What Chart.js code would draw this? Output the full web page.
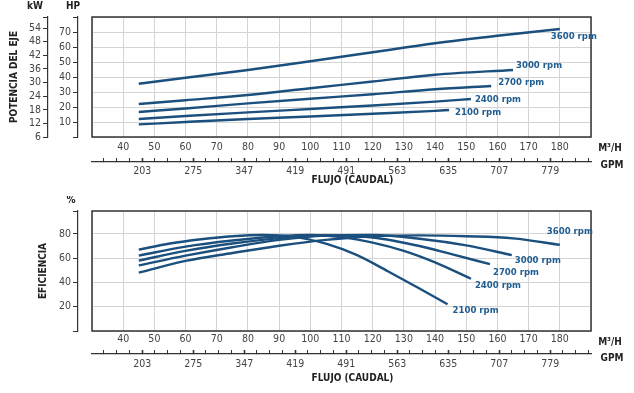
<!DOCTYPE html>
<html>
<head>
<meta charset="utf-8">
<script src="https://cdn.jsdelivr.net/npm/chart.js@4.4.1/dist/chart.umd.min.js"></script>
<style>
  html, body { margin: 0; padding: 0; background: #fff; }
  #wrap { position: relative; width: 634px; height: 393px; }
  canvas { position: absolute; left: 0; }
  #top { top: 0; }
  #bot { top: 196px; }
</style>
</head>
<body>
<div id="wrap">
  <canvas id="top" width="634" height="196"></canvas>
  <canvas id="bot" width="634" height="197"></canvas>
</div>
<script>
// curvas de la bomba
var rpmLabels = ['3600 rpm', '3000 rpm', '2700 rpm', '2400 rpm', '2100 rpm'];

// potencia del eje (HP) vs caudal (m3/h)
var powFlow3600 = [45, 60, 80, 100, 120, 140, 160, 180];
var powHp3600   = [35.5, 39.5, 44.7, 50.5, 56.5, 62.5, 67.5, 72];
var powFlow3000 = [45, 60, 80, 100, 120, 140, 165];
var powHp3000   = [22, 24.5, 28, 32.5, 37, 41.5, 44.7];
var powFlow2700 = [45, 60, 80, 100, 120, 140, 158];
var powHp2700   = [16.7, 19, 22.4, 25.5, 28.5, 31.8, 34];
var powFlow2400 = [45, 60, 80, 100, 120, 140, 151.5];
var powHp2400   = [12, 14, 16.4, 18.7, 21, 23.6, 25.3];
var powFlow2100 = [45, 60, 80, 100, 120, 140, 144.5];
var powHp2100   = [8.4, 10, 12, 13.7, 15.5, 17.4, 18];

// eficiencia (%) vs caudal (m3/h)
var effFlow3600 = [45, 60, 75, 90, 105, 120, 135, 150, 165, 180];
var eff3600     = [48, 57.7, 64.2, 70.2, 75, 78, 78.7, 78, 76.3, 71];
var effFlow3000 = [45, 60, 75, 90, 105, 120, 135, 150, 164.6];
var eff3000     = [54, 62, 69, 75, 78.5, 79, 76, 70.5, 62.5];
var effFlow2700 = [45, 60, 75, 90, 105, 120, 135, 145, 157.6];
var eff2700     = [58, 66, 72, 76.5, 78.8, 77, 70, 63.5, 55];
var effFlow2400 = [45, 60, 75, 90, 100, 110, 120, 130, 140, 151.5];
var eff2400     = [62, 69.5, 74.5, 78, 79, 77.3, 72.8, 66, 56.5, 43];
var effFlow2100 = [45, 55, 65, 75, 85, 95, 105, 115, 125, 135, 144];
var eff2100     = [67, 72, 75.5, 78, 79, 77.5, 72, 62.5, 49, 35, 22];

// ejes
var m3hTicks = [40, 50, 60, 70, 80, 90, 100, 110, 120, 130, 140, 150, 160, 170, 180];
var gpmTicks = [203, 275, 347, 419, 491, 563, 635, 707, 779];
var kwTicks  = [6, 12, 18, 24, 30, 36, 42, 48, 54];
var hpTicks  = [10, 20, 30, 40, 50, 60, 70];
var pctTicks = [20, 40, 60, 80];

var M3H_PER_GPM = 0.22712;
var FLOW_MIN = 30, FLOW_MAX = 190;

var FONT = '"Liberation Sans Narrow", "DejaVu Sans Condensed", "Roboto Condensed", "Liberation Sans", sans-serif';
var CURVE = '#1b4f7e';
var LABEL = '#1f5c91';
var GRID = '#d4d4d4';
var INK = '#333';

var labelOffsetsTop = [[-9, 8], [3, -4], [7, -3], [4, 0], [6, 3]];
var labelOffsetsBot = [[-13, -13], [3, 5], [3, 8], [4, 7], [5, 6]];

function pts(xs, ys) {
  return xs.map(function (x, i) { return { x: x, y: ys[i] }; });
}

function curve(data) {
  return {
    data: data, borderColor: CURVE, borderWidth: 2.4, pointRadius: 0,
    fill: false, cubicInterpolationMode: 'monotone', yAxisID: 'y', xAxisID: 'x'
  };
}

function stepTicks(min, max, step) {
  return function (s) {
    var t = [];
    for (var v = min; v <= max + 1e-6; v += step) t.push({ value: v });
    s.ticks = t;
  };
}

function listTicks(list, extra) {
  return function (s) {
    var t = list.concat(extra).sort(function (a, b) { return a - b; });
    s.ticks = t.map(function (v) { return { value: v }; });
  };
}

function gpmTickBuilder(s) {
  var step = (gpmTicks[1] - gpmTicks[0]) / 4;
  var t = [];
  for (var v = gpmTicks[0] - 4 * step; v <= s.max; v += step) {
    if (v >= s.min) t.push({ value: v });
  }
  s.ticks = t;
}

var tickFont = { family: FONT, size: 10.5 };

function flowScales(m3hPad, m3hHeight, gpmPad, gpmHeight) {
  return {
    x: {
      type: 'linear', position: 'bottom', weight: 0, min: FLOW_MIN, max: FLOW_MAX,
      afterBuildTicks: stepTicks(FLOW_MIN, FLOW_MAX, 10),
      afterFit: function (s) { s.height = m3hHeight; },
      ticks: {
        autoSkip: false, maxRotation: 0, padding: m3hPad, color: '#444', font: tickFont,
        callback: function (v) { return m3hTicks.indexOf(v) >= 0 ? String(v) : ''; }
      },
      grid: { color: GRID, lineWidth: 1, drawTicks: false },
      border: { display: false }
    },
    gpm: {
      type: 'linear', position: 'bottom', weight: 1,
      min: FLOW_MIN / M3H_PER_GPM, max: FLOW_MAX / M3H_PER_GPM,
      afterBuildTicks: gpmTickBuilder,
      afterFit: function (s) { s.height = gpmHeight; },
      ticks: {
        autoSkip: false, maxRotation: 0, padding: gpmPad, color: '#444', font: tickFont,
        callback: function (v) { return gpmTicks.indexOf(v) >= 0 ? String(v) : ''; }
      },
      grid: {
        drawOnChartArea: false, drawTicks: true, tickLength: -4, color: INK,
        tickWidth: function (c) { return gpmTicks.indexOf(c.tick.value) >= 0 ? 1.6 : 1; }
      },
      border: { display: true, color: INK, width: 1.2 }
    }
  };
}

function spacerScale(max, step) {
  return {
    position: 'left', weight: 0, min: 0, max: max,
    afterBuildTicks: stepTicks(0, max, step),
    afterFit: function (s) { s.width = 14; },
    ticks: { display: false },
    grid: { color: GRID, lineWidth: 1, drawTicks: false },
    border: { display: false }
  };
}

function sideScale(weight, min, max, list, width, title, titlePad) {
  var sc = {
    position: 'left', weight: weight, min: min, max: max,
    afterBuildTicks: listTicks(list, [min, max].filter(function (v) { return list.indexOf(v) < 0; })),
    afterFit: function (s) { s.width = width; },
    ticks: {
      autoSkip: false, padding: 2, color: '#444', font: tickFont,
      callback: function (v) { return list.indexOf(v) >= 0 ? String(v) : ''; }
    },
    grid: { drawOnChartArea: false, drawTicks: true, tickLength: 5, color: INK },
    border: { display: true, color: INK, width: 1.2 }
  };
  if (title) {
    sc.title = {
      display: true, text: title, color: '#222',
      font: { family: FONT, size: 10, weight: 'bold' },
      padding: { top: titlePad, bottom: 0 }
    };
  }
  return sc;
}

function text(ctx, s, x, y, align, color, font) {
  ctx.save();
  ctx.fillStyle = color;
  ctx.font = font;
  ctx.textAlign = align;
  ctx.textBaseline = 'middle';
  ctx.fillText(s, x, y);
  ctx.restore();
}

var boldFont = 'bold 10px ' + FONT;

function panelPlugin(offsets, extras) {
  return {
    id: 'panel',
    beforeDatasetsDraw: function (chart) {
      var a = chart.chartArea, ctx = chart.ctx;
      ctx.save();
      ctx.strokeStyle = INK;
      ctx.lineWidth = 1.5;
      ctx.strokeRect(a.left, a.top, a.right - a.left, a.bottom - a.top);
      ctx.restore();
    },
    afterDatasetsDraw: function (chart) {
      var ctx = chart.ctx;
      chart.data.datasets.forEach(function (ds, i) {
        var meta = chart.getDatasetMeta(i);
        var p = meta.data[meta.data.length - 1];
        text(ctx, rpmLabels[i], p.x + offsets[i][0], p.y + offsets[i][1], 'left', LABEL, 'bold 9.5px ' + FONT);
      });
      extras(chart, ctx);
    }
  };
}

function flowLabels(chart, ctx, m3hDy, gpmDy, titleDy) {
  var a = chart.chartArea, sx = chart.scales.x, sg = chart.scales.gpm;
  text(ctx, 'M³/H', a.right + 19, sx.top + m3hDy, 'center', '#222', boldFont);
  text(ctx, 'GPM', a.right + 21, sg.top + gpmDy, 'center', '#222', boldFont);
  text(ctx, 'FLUJO (CAUDAL)', (a.left + a.right) / 2 + 11, sg.top + titleDy, 'center', '#222', boldFont);
}

var baseOptions = {
  responsive: false, animation: false, devicePixelRatio: 1,
  plugins: { legend: { display: false }, tooltip: { enabled: false } }
};

// --- potencia del eje ---
var topScales = flowScales(4, 25, 7, 34);
topScales.y = spacerScale(80, 10);
topScales.hp = sideScale(1, 0, 80, hpTicks, 30);
topScales.kw = sideScale(2, 6, 58.9, kwTicks, 48, 'POTENCIA DEL EJE', 8);

new Chart(document.getElementById('top'), {
  type: 'line',
  data: {
    datasets: [
      curve(pts(powFlow3600, powHp3600)),
      curve(pts(powFlow3000, powHp3000)),
      curve(pts(powFlow2700, powHp2700)),
      curve(pts(powFlow2400, powHp2400)),
      curve(pts(powFlow2100, powHp2100))
    ]
  },
  options: Object.assign({}, baseOptions, {
    layout: { padding: { top: 17, right: 43, bottom: 0, left: 0 } },
    scales: topScales
  }),
  plugins: [panelPlugin(labelOffsetsTop, function (chart, ctx) {
    text(ctx, 'kW', chart.scales.kw.right - 13, 6, 'center', '#222', boldFont);
    text(ctx, 'HP', chart.scales.hp.right - 5, 6, 'center', '#222', boldFont);
    flowLabels(chart, ctx, 11, 3, 18);
  })]
});

// --- eficiencia ---
var botScales = flowScales(2, 23, 8, 39);
botScales.y = spacerScale(98.8, 20);
botScales.pct = sideScale(1, 0, 98.8, pctTicks, 78, 'EFICIENCIA', 37);

new Chart(document.getElementById('bot'), {
  type: 'line',
  data: {
    datasets: [
      curve(pts(effFlow3600, eff3600)),
      curve(pts(effFlow3000, eff3000)),
      curve(pts(effFlow2700, eff2700)),
      curve(pts(effFlow2400, eff2400)),
      curve(pts(effFlow2100, eff2100))
    ]
  },
  options: Object.assign({}, baseOptions, {
    layout: { padding: { top: 15, right: 43, bottom: 0, left: 0 } },
    scales: botScales
  }),
  plugins: [panelPlugin(labelOffsetsBot, function (chart, ctx) {
    text(ctx, '%', chart.scales.pct.right - 7, 4, 'center', '#222', boldFont);
    flowLabels(chart, ctx, 11, 4, 24);
  })]
});
</script>
</body>
</html>
